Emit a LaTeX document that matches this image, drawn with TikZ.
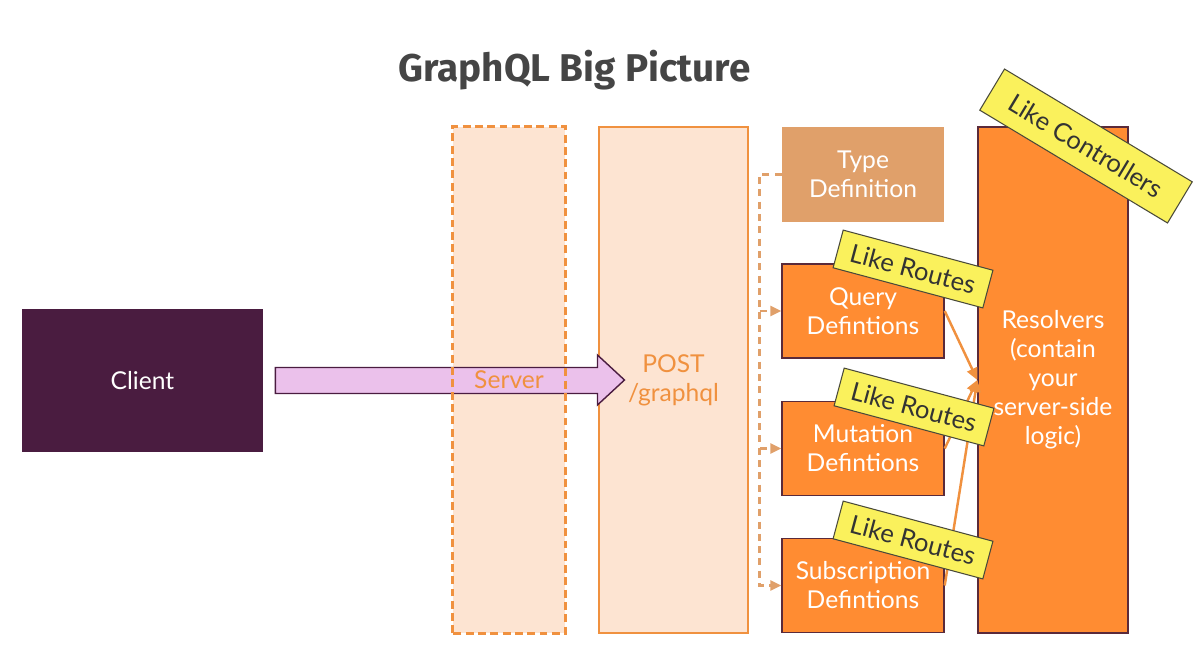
\documentclass[tikz,border=0pt]{standalone}
\usepackage{fontspec}
\setmainfont{Lato}
\newfontfamily\headfont{Fira Sans}
\usepackage{tikz}
\usetikzlibrary{arrows.meta,positioning,calc}
\definecolor{cClient}{HTML}{4A1C40}
\definecolor{cPink}{HTML}{EBC1EB}
\definecolor{cPeach}{HTML}{FDE4D2}
\definecolor{cOrLine}{HTML}{F0913F}
\definecolor{cTan}{HTML}{E0A06A}
\definecolor{cOrange}{HTML}{FF8C32}
\definecolor{cEdge}{HTML}{5A2A3A}
\definecolor{cNote}{HTML}{FAF15C}
\definecolor{cNoteLine}{HTML}{4A4A3A}
\definecolor{cTitle}{HTML}{454545}
\tikzset{
  blk/.style     = {rectangle, align=center, inner sep=2pt, text=white,
                    font=\fontsize{14}{16.5}\selectfont},
  clib/.style    = {blk, fill=cClient, minimum width=4.82cm, minimum height=2.86cm},
  srvb/.style    = {rectangle, fill=cPeach, minimum width=2.24cm, minimum height=10.12cm},
  srvline/.style = {draw=cOrLine, line width=1.6pt, dash pattern=on 4.5pt off 2.5pt},
  srvlab/.style  = {blk, text=cOrLine},
  endb/.style    = {blk, fill=cPeach, draw=cOrLine, line width=0.6pt, text=cOrLine,
                    minimum width=2.98cm, minimum height=10.12cm},
  tdefb/.style   = {blk, fill=cTan, minimum width=3.24cm, minimum height=1.9cm},
  defb/.style    = {blk, fill=cOrange, draw=cEdge, line width=0.8pt,
                    minimum width=3.24cm, minimum height=1.88cm},
  resb/.style    = {defb, minimum width=3.0cm, minimum height=10.12cm},
  note/.style    = {rectangle, fill=cNote, draw=cNoteLine, line width=0.6pt, inner sep=1pt,
                    text=black!80, font=\fontsize{14.5}{16}\selectfont,
                    minimum width=3.1cm, minimum height=0.78cm},
  req/.style     = {fill=cPink, draw=cClient, line width=0.8pt, line join=miter},
  bus/.style     = {draw=cTan, line width=1.6pt, dash pattern=on 4pt off 3pt},
  busa/.style    = {bus, -{Triangle[length=2.2mm,width=2mm]}},
  fl/.style      = {-{Triangle[length=2.4mm,width=2.2mm]}, draw=cOrLine, line width=1.4pt},
}
\begin{document}
\begin{tikzpicture}
  \useasboundingbox (0,0) rectangle (24.08,13.38);
  \node[font=\headfont\bfseries\fontsize{22}{26}\selectfont, text=cTitle] (title) at (11.49,11.98) {GraphQL Big Picture};

  % ---- CLIENT / SERVER ----
  \node[clib] (cli)  at (2.85,5.77) {Client};
  \node[srvb] (srv)  at (10.18,5.78) {};
  \node[endb] (post) at (13.47,5.78) {POST\\/graphql};

  % request arrow over the server column
  \coordinate (tail) at ($(cli.east)+(0.24,0)$);
  \coordinate (tip)  at ($(post.west)+(0.52,0)$);
  \draw[req] ($(tail)+(0,0.26)$) -- ($(tip |- tail)+(-0.54,0.26)$) -- ($(tip)+(-0.54,0.5)$)
    -- (tip) -- ($(tip)+(-0.54,-0.5)$) -- ($(tip |- tail)+(-0.54,-0.26)$) -- ($(tail)+(0,-0.26)$) -- cycle;
  \draw[srvline] (srv.south west) rectangle (srv.north east);
  \node[srvlab] (srvt) at (srv) {Server};

  % ---- SCHEMA ----
  \node[tdefb] (tdef) at (17.26,9.89) {Type\\Definition};
  \node[defb]  (qry)  at (17.26,7.16) {Query\\Defintions};
  \node[defb]  (mut)  at (17.26,4.41) {Mutation\\Defintions};
  \node[defb]  (sub)  at (17.26,1.67) {Subscription\\Defintions};
  \node[resb]  (res)  at (21.06,5.78) {Resolvers\\(contain\\your\\server-side\\logic)};

  % ---- FLOW ----
  \draw[busa] (tdef.west) -- ++(-0.44,0) coordinate (bustop) |- (sub.west);
  \draw[busa] (bustop |- qry.west) -- (qry.west);
  \draw[busa] (bustop |- mut.west) -- (mut.west);
  \draw[fl] (qry.east) -- (res.west);
  \draw[fl] (mut.east) -- (res.west);
  \draw[fl] (sub.east) -- (res.west);

  % ---- NOTES ----
  \node[note, rotate=-15] (nqry) at (18.26,8.00) {Like Routes};
  \node[note, rotate=-15] (nmut) at (18.28,5.24) {Like Routes};
  \node[note, rotate=-15] (nsub) at (18.26,2.58) {Like Routes};
  \node[note, rotate=-31, minimum width=4.38cm, minimum height=0.96cm] (nres) at (21.72,10.46) {Like Controllers};
\end{tikzpicture}
\end{document}
